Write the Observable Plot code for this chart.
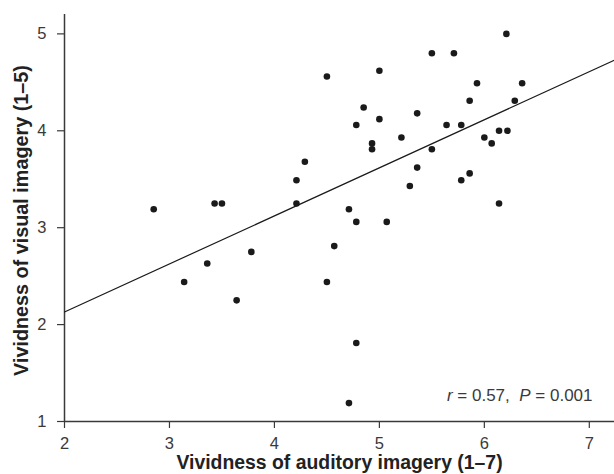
<!DOCTYPE html>
<html>
<head>
<meta charset="utf-8">
<script src="https://cdn.jsdelivr.net/npm/d3@7"></script>
<script src="https://cdn.jsdelivr.net/npm/@observablehq/plot@0.6"></script>
<style>
  html, body { margin: 0; padding: 0; background: #fff; }
  #chart svg { display: block; }
</style>
</head>
<body>
<div id="chart"></div>
<script>
// Auditory imagery vividness (x) and visual imagery vividness (y)
const auditory = [
  2.85, 3.43, 3.50, 4.21, 4.21, 4.29, 4.50,
  3.14, 3.36, 3.64, 3.78, 4.50, 4.57,
  4.78, 4.71,
  6.21, 5.50, 5.71, 5.00, 5.93, 6.36, 4.85, 5.86, 6.29, 4.78,
  5.00, 5.36, 5.64, 5.78, 5.21, 4.93, 4.93, 5.50, 6.00, 6.07,
  6.14, 6.22, 5.36, 5.29, 5.78, 5.86, 6.14, 4.71, 4.78, 5.07
];
const visual = [
  3.19, 3.25, 3.25, 3.25, 3.49, 3.68, 4.56,
  2.44, 2.63, 2.25, 2.75, 2.44, 2.81,
  1.81, 1.19,
  5.00, 4.80, 4.80, 4.62, 4.49, 4.49, 4.24, 4.31, 4.31, 4.06,
  4.12, 4.18, 4.06, 4.06, 3.93, 3.87, 3.81, 3.81, 3.93, 3.87,
  4.00, 4.00, 3.62, 3.43, 3.49, 3.56, 3.25, 3.19, 3.06, 3.06
];
const xTicks = [2, 3, 4, 5, 6, 7];
const yTicks = [1, 2, 3, 4, 5];
const xDomain = [2, 7.24];
const yDomain = [1, 5.2];
const fitIntercept = 1.138;
const fitSlope = 0.496;
const xTitle = "Vividness of auditory imagery (1–7)";
const yTitle = "Vividness of visual imagery (1–5)";
const statsText = "r = 0.57, P = 0.001";

const points = auditory.map((a, i) => ({a, v: visual[i]}));
const fit = xDomain.map(a => ({a, v: fitIntercept + fitSlope * a}));

const ink = "#1a1a1a";
const axisInk = "#3a3a3a";

const chart = Plot.plot({
  width: 614,
  height: 474,
  marginLeft: 64,
  marginRight: 0,
  marginTop: 14,
  marginBottom: 53,
  style: {fontFamily: "'Liberation Sans', Arial, Helvetica, sans-serif", fontSize: "16px", color: axisInk, background: "#fff"},
  x: {domain: xDomain},
  y: {domain: yDomain},
  marks: [
    Plot.axisX({ticks: xTicks, tickFormat: d3.format("d"), tickSize: 7, tickPadding: 9, fontSize: 16.5, label: null, stroke: axisInk, strokeWidth: 1.2}),
    Plot.axisY({ticks: yTicks, tickFormat: d3.format("d"), tickSize: 7, tickPadding: 11, fontSize: 16.5, label: null, stroke: axisInk, strokeWidth: 1.2}),
    Plot.ruleY([yDomain[0]], {x1: xDomain[0], x2: xDomain[1], stroke: axisInk, strokeWidth: 1.5}),
    Plot.ruleX([xDomain[0]], {y1: yDomain[0], y2: yDomain[1], stroke: axisInk, strokeWidth: 1.5}),
    Plot.line(fit, {x: "a", y: "v", stroke: ink, strokeWidth: 1.2}),
    Plot.dot(points, {x: "a", y: "v", r: 3.3, fill: ink, stroke: "none"}),
    Plot.text([statsText], {frameAnchor: "bottom-right", dx: -22, dy: -21, textAnchor: "end", lineAnchor: "bottom", fontSize: 17, fill: axisInk, className: "stats"}),
    Plot.text([xTitle], {frameAnchor: "bottom", dy: 47, textAnchor: "middle", lineAnchor: "bottom", fontSize: 19.4, fontWeight: "bold", fill: "#222"}),
    Plot.text([yTitle], {frameAnchor: "left", dx: -37, dy: 2.5, textAnchor: "middle", rotate: -90, lineAnchor: "bottom", fontSize: 19.8, fontWeight: "bold", fill: "#222"})
  ]
});

document.getElementById("chart").appendChild(chart);

// italicise r and P in the statistic annotation
d3.select(chart).selectAll("g.stats text, .stats text").each(function () {
  const t = d3.select(this);
  t.text(null);
  t.append("tspan").attr("font-style", "italic").text("r");
  t.append("tspan").text(" = 0.57,  ");
  t.append("tspan").attr("font-style", "italic").text("P");
  t.append("tspan").text(" = 0.001");
});
</script>
</body>
</html>
